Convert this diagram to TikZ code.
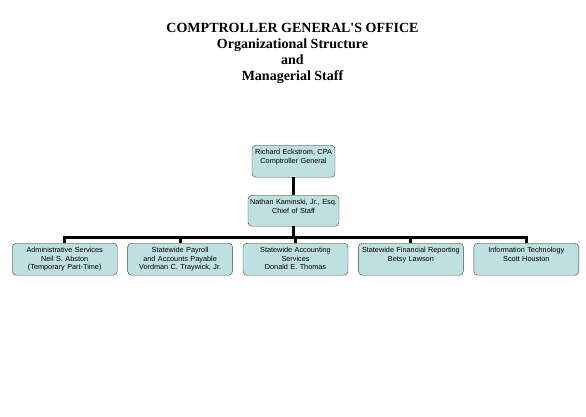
\documentclass[tikz,border=0pt]{standalone}
\usepackage{fontspec}
\setmainfont{Liberation Serif}
\setsansfont{Liberation Sans}
\usetikzlibrary{positioning}
\definecolor{boxfill}{HTML}{BEE0E0}
\definecolor{boxline}{HTML}{404040}

\begin{document}
\begin{tikzpicture}[x=1pt, y=-1pt, node distance=10pt,
  orgbox/.style={draw=boxline, fill=boxfill, rounded corners=4pt, inner xsep=2pt, inner ysep=0pt,
    text width=#1, align=center, text height=9pt, text depth=23pt,
    font=\sffamily\fontsize{7.3}{8.8}\selectfont},
  link/.style={line width=3pt}]
\useasboundingbox (0,0) rectangle (586,417);
% title
\node[font=\bfseries\fontsize{14}{16}\selectfont, align=center, anchor=north, inner sep=0pt] (title) at (292.5,23.5)
  {COMPTROLLER GENERAL\textquotesingle S OFFICE\\Organizational Structure\\and\\Managerial Staff};
% top of the chart
\node[orgbox=79pt, anchor=north] (ceo) at (293.5,145) {Richard Eckstrom, CPA\\Comptroller General};
\node[orgbox=87pt, anchor=north, text depth=22pt] (cos) at (293.5,195) {Nathan Kaminski, Jr., Esq.\\Chief of Staff};
% divisions
\node[orgbox=101pt, anchor=north west] (admin) at (12,243) {Administrative Services\\Neil S. Abston\\(Temporary Part-Time)};
\node[orgbox=101pt, right=of admin] (payroll) {Statewide Payroll\\and Accounts Payable\\Vordman C. Traywick, Jr.};
\node[orgbox=101pt, right=of payroll] (acct) {Statewide Accounting\\Services\\Donald E. Thomas};
\node[orgbox=101pt, right=of acct] (report) {Statewide Financial Reporting\\Betsy Lawson};
\node[orgbox=101pt, right=of report] (it) {Information Technology\\Scott Houston};
% connectors
\coordinate (bus) at (293.5,237);
\draw[link] (ceo) -- (cos);
\draw[link] (cos) -- (bus);
\draw[link] (bus) -| (admin);
\draw[link] (bus) -| (payroll);
\draw[link] (bus) -| (acct);
\draw[link] (bus) -| (report);
\draw[link] (bus) -| (it);
\end{tikzpicture}
\end{document}
